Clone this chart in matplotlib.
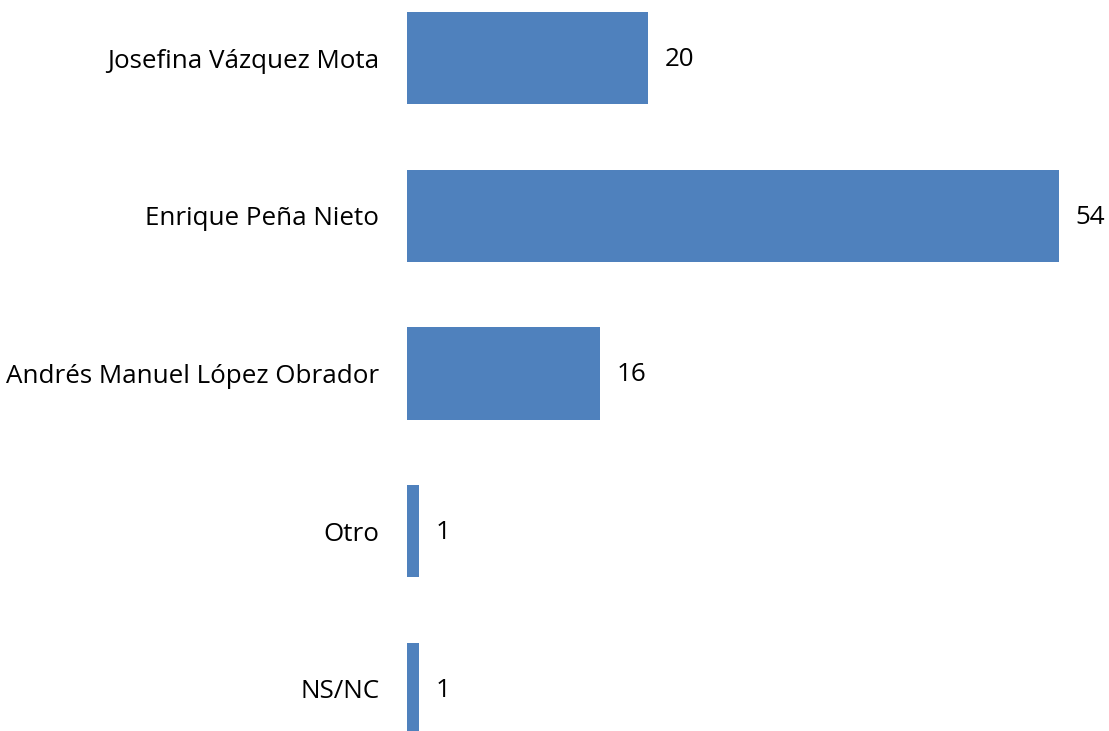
import numpy as np
import matplotlib
matplotlib.use("Agg")
from matplotlib import pyplot as plt

candidates = ["Josefina Vázquez Mota", "Enrique Peña Nieto",
              "Andrés Manuel López Obrador", "Otro", "NS/NC"]
values = [20, 54, 16, 1, 1]

plt.rcParams['font.family'] = ['Open Sans', 'DejaVu Sans']

fig = plt.figure(figsize=(11.09, 7.31), dpi=100)
W, H = 1109, 731
ax = fig.add_axes([407 / W, 0, (1059 - 407) / W, 1])

y = np.arange(len(candidates))
ax.barh(y, values, height=0.585, color='#4F81BD')
ax.set_xlim(0, 54)
ax.set_ylim((731 - 58) / 157.75, -58 / 157.75)

ax.set_yticks(y)
ax.set_yticklabels(candidates, fontsize=18.7, color='#000000')
ax.tick_params(axis='y', length=0, pad=20)
ax.set_xticks([])
for s in ax.spines.values():
    s.set_visible(False)

for yi, v in zip(y, values):
    ax.annotate(str(v), (v, yi), xytext=(12, -1), textcoords='offset points',
                va='center', ha='left', fontsize=18.7, color='#000000')

fig.savefig('out.png', dpi=100)
